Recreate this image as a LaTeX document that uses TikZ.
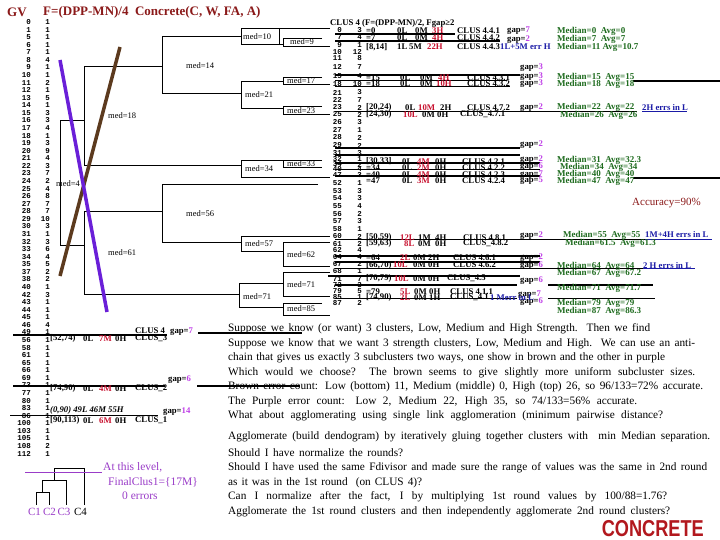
\documentclass[tikz,border=0pt]{standalone}
\usepackage{fontspec}
\setmainfont{Liberation Serif}
\newfontfamily\monof{Liberation Mono}
\newfontfamily\sansf{Liberation Sans}
\definecolor{maroon}{HTML}{8B1A1A}
\definecolor{redc}{HTML}{C8102E}
\definecolor{dkgreen}{HTML}{1E6B1E}
\definecolor{dkblue}{HTML}{1A1AA6}
\definecolor{gapc}{HTML}{C040E8}
\definecolor{brownl}{HTML}{5C3A1E}
\definecolor{purpl}{HTML}{6A1FD8}
\definecolor{violt}{HTML}{9A3CC8}
\definecolor{concr}{HTML}{B2181E}
\newcommand\R[1]{\textcolor{redc}{#1}}
\newcommand\pline[2]{\makebox[#1pt][s]{#2}}
\begin{document}
\begin{tikzpicture}[x=1pt,y=-1pt,
  numf/.style={font=\monof\bfseries\fontsize{7.5}{7.5}\selectfont,inner sep=0pt},
  tb/.style={font=\bfseries\fontsize{8.7}{8.7}\selectfont,inner sep=0pt,anchor=west},
  grn/.style={font=\bfseries\fontsize{9}{9}\selectfont,inner sep=0pt,anchor=west,text=dkgreen},
  blu/.style={tb,text=dkblue},
  medf/.style={font=\fontsize{8.5}{8.5}\selectfont,inner sep=0pt,anchor=west},
  ln/.style={line width=0.8pt},
  thk/.style={line width=1.6pt},
  para/.style={font=\fontsize{11.3}{11.3}\selectfont,inner sep=0pt,anchor=west},
  vio/.style={font=\fontsize{11.5}{11.5}\selectfont,inner sep=0pt,text=violt},
  clab/.style={font=\fontsize{11}{11}\selectfont,inner sep=0pt}]
\useasboundingbox (0,0) rectangle (720,540);
\fill[white] (0,0) rectangle (720,540);

% header
\node[font=\bfseries\fontsize{13}{13}\selectfont,text=maroon,anchor=west,inner sep=0pt] (gv) at (7,12) {GV};
\node[font=\bfseries\fontsize{13}{13}\selectfont,text=maroon,anchor=west,inner sep=0pt] (ftitle) at (43,12) {F=(DPP-MN)/4\ \ Concrete(C, W, FA, A)};

% left column
\foreach \v/\c [count=\i from 0] in {0/1,1/1,5/1,6/1,7/1,8/4,9/1,10/1,11/2,12/1,13/5,14/1,15/3,16/3,17/4,18/1,19/3,20/9,21/4,22/3,23/7,24/2,25/4,26/8,27/7,28/7,29/10,30/3,31/1,32/3,33/6,34/4,35/5,37/2,38/2,40/1,42/3,43/1,44/1,45/1,46/4,49/1,56/1,58/1,61/1,65/1,66/1,69/1,73/1,77/1,80/1,83/1,86/1,100/1,103/1,105/1,108/2,112/1}{
  \node[numf,anchor=east] (lv\i) at (31,{22.1+7.57*\i}) {\v};
  \node[numf,anchor=east] (lc\i) at (50,{22.1+7.57*\i}) {\c};
}

% dendrogram brackets
\draw[ln] (162,66) -- (84,66) -- (84,165.7) -- (241,165.7);
\draw[ln] (84,120) -- (60,120) -- (60,245) -- (84,245);
\draw[ln] (162,211.7) -- (84,211.7) -- (84,294) -- (239,294);
\draw[ln] (241,36) -- (162,36) -- (162,93) -- (241,93);
\draw[ln] (318,184) -- (162,184) -- (162,242) -- (241,242);
\draw[ln] (330,28) -- (241,28) -- (241,44) -- (283,44);
\draw[ln] (279,28) -- (279,44);
\draw[ln] (322,38) -- (283,38) -- (283,46) -- (330,46);
\draw[ln] (283,81) -- (241,81) -- (241,108) -- (283,108);
\draw[ln] (322,77) -- (283,77) -- (283,84) -- (330,84);
\draw[ln] (322,106) -- (283,106) -- (283,114) -- (330,114);
\draw[ln] (283,160) -- (241,160) -- (241,177) -- (330,177);
\draw[ln] (322,160) -- (283,160) -- (283,167) -- (322,167);
\draw[ln] (330,236) -- (241,236) -- (241,251) -- (283,251);
\draw[ln] (330,242) -- (283,242) -- (283,266) -- (330,266);
\draw[ln] (283,283) -- (239,283) -- (239,307) -- (283,307);
\draw[ln] (330,272) -- (283,272) -- (283,296) -- (330,296);
\draw[ln] (322,303) -- (283,303) -- (283,315) -- (330,315);

\node[medf] (m18) at (108,116) {med=18};
\node[medf] (m4) at (56,184) {med=4};
\node[medf] (m61) at (108,252.7) {med=61};
\node[medf] (m14) at (186,66) {med=14};
\node[medf] (m56) at (186,214) {med=56};
\node[medf] (m10) at (243,36.5) {med=10};
\node[medf] (m9) at (290,42) {med=9};
\node[medf] (m21) at (245,95) {med=21};
\node[medf] (m17) at (287,81) {med=17};
\node[medf] (m23) at (287,111) {med=23};
\node[medf] (m34) at (245,169) {med=34};
\node[medf] (m33) at (287,164) {med=33};
\node[medf] (m57) at (245,244) {med=57};
\node[medf] (m62) at (287,255) {med=62};
\node[medf] (m71i) at (287,285) {med=71};
\node[medf] (m71o) at (243,296.7) {med=71};
\node[medf] (m85) at (287,309) {med=85};

% brown and purple antichains
\draw[brownl,line width=3.5pt] (120,47) -- (60,276);
\draw[purpl,line width=3.5pt] (60,60) -- (107,312);

% CLUS 4 table
\node[tb] (chdr) at (330,23) {CLUS 4 (F=(DPP-MN)/2, Fgap≥2};
\foreach \v/\c/\yy [count=\i] in {0/3/30,7/4/37.5,9/1/45.5,10/12/52,11/8/58.5,12/7/67,15/4/76.5,18/10/84,21/3/92.5,22/7/100,23/2/107.5,25/2/114.5,26/3/122,27/1/130,28/2/137.5,29/2/145.5,31/3/153,32/1/159.5,34/2/164.5,40/4/169.5,47/3/175,52/1/183.5,53/3/191,54/3/198.5,55/4/206,56/2/214,57/3/221.5,58/1/229,60/2/236.5,61/2/244,62/4/250.5,64/4/257,67/2/264,68/1/271.5,71/7/279,72/3/285,79/5/291,85/1/297,87/2/303}{
  \node[numf,anchor=east] (tv\i) at (342,\yy) {\v};
  \node[numf,anchor=east] (tc\i) at (362,\yy) {\c};
}

% thick table lines
\foreach \yy/\xa/\xb in {34.3/335/455,41/335/500,75/335/520,80.7/335/507,86.7/335/510,111.7/335/637,148/335/520,155/335/520,163.3/335/540,169.7/335/540,176/335/540,239.5/335/647,256/335/540,262/335/540,268.3/335/643,276/328/520,285/335/517,298.3/335/517}{
  \draw[thk] (\xa,\yy) -- (\xb,\yy);
}
\draw[thk] (633,81) -- (720,81);
\draw[thk] (633,178.3) -- (720,178.3);
\draw[thk] (548,285) -- (653,285);
\draw[thk] (548,298.3) -- (655,298.3);
\draw[dkblue,line width=1pt] (642,111.7) -- (687,111.7);
\draw[dkblue,line width=1pt] (645,239.5) -- (712,239.5);
\draw[dkblue,line width=1pt] (643,268.3) -- (695,268.3);

% annotations
\foreach \yy/\rg/\xl/\vl/\xm/\vm/\xh/\vh/\xc/\cl [count=\k] in {
 31/{=0}/397/0L/415/0M/432/\R{3H}/457/CLUS 4.4.1,
 37.7/{=7}/397/0L/415/0M/432/\R{4H}/457/CLUS 4.4.2,
 46.7/{[8,14]}/397/1L/409/5M/427/\R{22H}/457/CLUS 4.4.3,
 77.3/{=15}/400/0L/420/0M/438/\R{4H}/467/CLUS 4.3.1,
 84/{=18}/400/0L/420/0M/436/\R{10H}/467/CLUS 4.3.2,
 107.3/{[20,24)}/405/0L/418/\R{10M}/440/2H/467/CLUS 4.7.2,
 114.3/{[24,30)}/403/\R{10L}/422/0M/437/0H/460/CLUS\_4.7.1,
 161.5/{[30,33]}/402/0L/417/\R{4M}/435/0H/462/CLUS 4.2.1,
 168/{=34}/402/0L/417/\R{2M}/435/0H/462/CLUS 4.2.2,
 174.5/{=40}/402/0L/417/\R{4M}/435/0H/462/CLUS 4.2.3,
 181/{=47}/402/0L/417/\R{3M}/435/0H/462/CLUS 4.2.4,
 237.3/{[50,59)}/400/\R{12L}/418/1M/435/4H/463/CLUS 4.8.1,
 243.3/{[59,63)}/404/\R{8L}/418/0M/435/0H/463/CLUS\_4.8.2,
 257.3/{=64}/400/\R{2L}/413/0M/428/2H/453/CLUS 4.6.1,
 265/{[66,70)}/393/\R{10L}/413/0M/428/0H/453/CLUS 4.6.2,
 278.3/{[70,79)}/394/\R{10L}/413/0M/428/0H/447/CLUS\_4.5,
 291.7/{=79}/400/\R{5L}/414/0M/429/0H/450/CLUS 4.1.1,
 297.7/{[74,90)}/400/\R{2L}/414/0M/429/1H/450/CLUS\_4.1}{
  \node[tb] (ar\k) at (366,\yy) {\rg};
  \node[tb] (al\k) at (\xl,\yy) {\vl};
  \node[tb] (am\k) at (\xm,\yy) {\vm};
  \node[tb] (ah\k) at (\xh,\yy) {\vh};
  \node[tb] (ac\k) at (\xc,\yy) {\cl};
}

% gap labels
\foreach \xx/\yy/\g [count=\k] in {507/31/7,507/40/2,520/68/3,520/77/3,520/84/3,520/107.7/2,520/145/2,520/160/2,520/166.7/6,520/174.3/7,520/181/5,520/235.5/2,520/257.3/2,520/266/6,520/281/6,518/295/7,520/302/6}{
  \node[tb] (gp\k) at (\xx,\yy) {gap=\textcolor{gapc}{\g}};
}

% medians
\foreach \xx/\yy/\t [count=\k] in {557/31/{Median=0\ \ Avg=0},557/39/{Median=7\ \ Avg=7},557/47/{Median=11 Avg=10.7},557/77/{Median=15\ \ Avg=15},557/84/{Median=18\ \ Avg=18},557/107.7/{Median=22\ \ Avg=22},560/115/{Median=26\ \ Avg=26},557/160/{Median=31\ \ Avg=32.3},560/167/{Median=34\ \ Avg=34},557/174.3/{Median=40\ \ Avg=40},557/181/{Median=47\ \ Avg=47},563/235/{Median=55\ \ Avg=55},565/243/{Median=61.5\ \ Avg=61.3},557/266/{Median=64\ \ Avg=64},557/273/{Median=67\ \ Avg=67.2},557/288.7/{Median=71\ \ Avg=71.7},557/303/{Median=79\ \ Avg=79},557/311/{Median=87\ \ Avg=86.3}}{
  \node[grn] (md\k) at (\xx,\yy) {\t};
}

% blue notes
\node[blu] (e1) at (500,47) {1L+5M err H};
\node[blu] (e2) at (642,107.7) {2H errs in L};
\node[blu] (e3) at (645,235) {1M+4H errs in L};
\node[blu] (e4) at (643,266) {2 H errs in L};
\node[blu] (e5) at (490,297.7) {1 Merr in L};

\node[font=\fontsize{11}{11}\selectfont,text=maroon,anchor=west,inner sep=0pt] (acc) at (632,203) {Accuracy=90\%};

% bottom-left cluster block
\draw[thk] (13,335) -- (167,335);
\draw[thk] (198,333) -- (302,333);
\node[tb] (c4) at (135,331) {CLUS 4};
\node[tb] (g7) at (170,332) {gap=\textcolor{gapc}{7}};
\node[tb] (r3) at (50,338.5) {[52,74)};
\node[tb] (r3l) at (83,338.5) {0L};
\node[tb] (r3m) at (99,338.5) {\R{7M}};
\node[tb] (r3h) at (115,338.5) {0H};
\node[tb] (r3c) at (135,338.5) {CLUS\_3};

\draw[thk] (13,386) -- (165,386);
\draw[thk] (197,386) -- (300,386);
\node[tb] (g6) at (168,380) {gap=\textcolor{gapc}{6}};
\node[tb] (r2) at (50,388.5) {[74,90)};
\node[tb] (r2l) at (83,388.5) {0L};
\node[tb] (r2m) at (99,388.5) {\R{4M}};
\node[tb] (r2h) at (115,388.5) {0H};
\node[tb] (r2c) at (135,388.5) {CLUS\_2};

\draw[line width=1.1pt] (10,415.5) -- (158,415.5);
\node[tb,font=\bfseries\itshape\fontsize{8.7}{8.7}\selectfont] (r0) at (50,410) {(0,90) 49L 46M 55H};
\node[tb] (g14) at (163,412) {gap=\textcolor{gapc}{14}};
\node[tb] (r1) at (50,420.5) {[90,113)};
\node[tb] (r1l) at (83,420.5) {0L};
\node[tb] (r1m) at (99,420.5) {\R{6M}};
\node[tb] (r1h) at (115,420.5) {0H};
\node[tb] (r1c) at (135,420.5) {CLUS\_1};

% mini dendrogram
\draw[line width=0.9pt] (36,505) -- (36,492.7) -- (49,492.7) -- (49,505);
\draw[line width=0.9pt] (42.3,492.7) -- (42.3,480) -- (66.7,480) -- (66.7,505);
\draw[line width=0.9pt] (54.3,480) -- (54.3,468.3) -- (84.3,468.3) -- (84.3,505);
\draw[violt,line width=1pt] (25,472.7) -- (102,472.7);
\node[clab,text=violt] (k1) at (34.5,512) {C1};
\node[clab,text=violt] (k2) at (49.5,512) {C2};
\node[clab,text=violt] (k3) at (64,512) {C3};
\node[clab] (k4) at (80.5,512) {C4};
\node[vio,anchor=west] (lvl) at (103,467) {At this level,};
\node[vio,anchor=west] (fc) at (108,482) {FinalClus1=\{17M\}};
\node[vio,anchor=west] (zer) at (122,495.5) {0 errors};

% paragraphs
\node[para] (p1) at (228,329) {\pline{422}{Suppose we know (or want) 3 clusters, Low, Medium and High Strength.\ \ Then we find}};
\node[para] (p2) at (228,343.5) {\pline{467}{Suppose we know that we want 3 strength clusters, Low, Medium and High.\ \ We can use an anti-}};
\node[para] (p3) at (228,358) {\pline{437}{chain that gives us exactly 3 subclusters two ways, one show in brown and the other in purple}};
\node[para] (p4) at (228,372.5) {\pline{467}{Which would we choose?\ \ The brown seems to give slightly more\ uniform\ subcluster sizes.}};
\node[para] (p5) at (228,387) {\pline{475}{Brown error count: Low (bottom) 11, Medium (middle) 0, High (top) 26, so 96/133=72\% accurate.}};
\node[para] (p6) at (228,401.5) {\pline{409}{The Purple error count: Low 2, Medium 22, High 35, so 74/133=56\% accurate.}};
\node[para] (p7) at (228,416) {\pline{435}{What about agglomerating using single link agglomeration (minimum\ pairwise distance?}};

\node[para] (q1) at (228,437) {\pline{482}{Agglomerate (build dendogram) by iteratively gluing together clusters with\ \ min Median separation.}};
\node[para] (q2) at (228,453) {\pline{175}{Should I have normalize\ the rounds?}};
\node[para] (q3) at (228,468) {\pline{479}{Should I have used the same Fdivisor and made sure\ the range of values was the same in 2nd round}};
\node[para] (q4) at (228,482.5) {\pline{194}{as it was in the 1st round\ \ (on CLUS 4)?}};
\node[para] (q5) at (228,497) {\pline{439}{Can I normalize after the fact, I by multiplying 1st round values by 100/88=1.76?}};
\node[para] (q6) at (228,511.5) {\pline{442}{Agglomerate the 1st round clusters and then independently agglomerate 2nd round clusters?}};

\node[font=\sansf\bfseries\fontsize{23}{23}\selectfont,text=concr,anchor=east,inner sep=0pt] (conc) at (704,528.5) {\scalebox{0.79}[1]{CONCRETE}};
\end{tikzpicture}
\end{document}
